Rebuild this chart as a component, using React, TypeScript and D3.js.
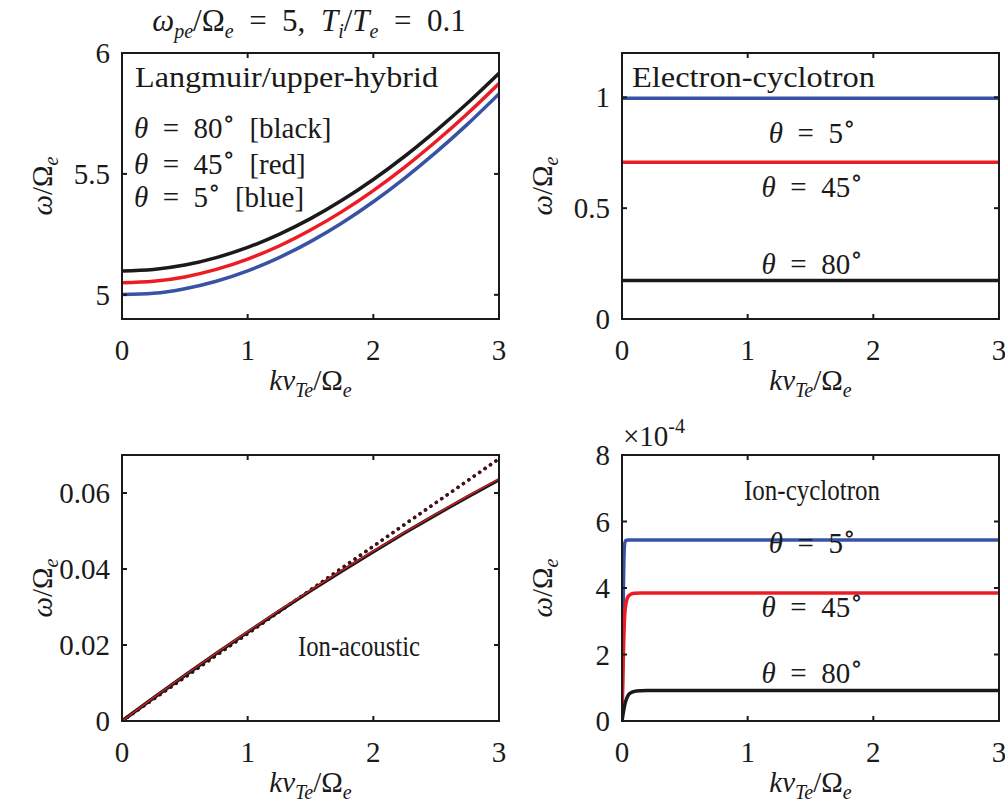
import React from "react";
import * as d3 from "d3";

// wavenumber grid kv_Te/Omega_e
const kGrid = [0, 0.25, 0.5, 0.75, 1, 1.25, 1.5, 1.75, 2, 2.25, 2.5, 2.75, 3];

// Langmuir / upper-hybrid branch
const luBlack = [5.099, 5.105, 5.123, 5.154, 5.196, 5.25, 5.315, 5.391, 5.477, 5.573, 5.679, 5.793, 5.916];
const luRed = [5.05, 5.056, 5.074, 5.105, 5.148, 5.202, 5.268, 5.344, 5.431, 5.528, 5.635, 5.75, 5.874];
const luBlue = [5.001, 5.006, 5.025, 5.056, 5.099, 5.154, 5.22, 5.297, 5.385, 5.483, 5.59, 5.706, 5.831];

// electron-cyclotron branch
const ecK = [0, 3];
const ecBlue = [0.996, 0.996];
const ecRed = [0.707, 0.707];
const ecBlack = [0.174, 0.174];

// ion-acoustic branch
const iaSolid = [0, 0.00606, 0.01197, 0.01775, 0.02339, 0.02889, 0.03425, 0.03948, 0.04456, 0.04951, 0.05431, 0.05898, 0.0635];
const iaRed = [0, 0.00612, 0.01207, 0.01788, 0.02355, 0.02906, 0.03443, 0.03966, 0.04474, 0.04969, 0.0545, 0.05918, 0.0637];
const iaDotted = [0, 0.00575, 0.0115, 0.01725, 0.023, 0.02875, 0.0345, 0.04025, 0.046, 0.05175, 0.0575, 0.06325, 0.069];

// ion-cyclotron branch (units of 1e-4)
const icK = [0, 0.005, 0.01, 0.02, 0.03, 0.05, 0.075, 0.1, 0.15, 0.2, 0.3, 0.5, 1, 2, 3];
const icBlue = [0, 1.8, 3.6, 5.3, 5.43, 5.44, 5.44, 5.44, 5.44, 5.44, 5.44, 5.44, 5.44, 5.44, 5.44];
const icRed = [0, 0.9, 1.8, 3.1, 3.5, 3.75, 3.82, 3.84, 3.85, 3.85, 3.85, 3.85, 3.85, 3.85, 3.85];
const icBlack = [0, 0.12, 0.24, 0.45, 0.6, 0.78, 0.86, 0.89, 0.91, 0.92, 0.92, 0.92, 0.92, 0.92, 0.92];

const xTicks = [0, 1, 2, 3];

const BLUE = "#3953a4";
const RED = "#ed1c24";
const BLACK = "#1a1a1a";
const FONT = "'Liberation Serif', 'Times New Roman', 'DejaVu Serif', serif";
const FS = 29; // main font size
const SS = 20; // subscript size
const SP = "\u2002";

type Series = { x: number[]; y: number[]; color: string; width: number; dash?: string };

type PanelProps = {
  left: number;
  top: number;
  yDomain: [number, number];
  yTicks: number[];
  series: Series[];
  children?: React.ReactNode;
};

const W = 377;
const H = 266;

const sub = (s: string, d = 7) => (
  <>
    <tspan dy={d} fontSize={SS} fontStyle="italic">
      {s}
    </tspan>
    <tspan dy={-d}>{"\u200b"}</tspan>
  </>
);

const Theta = ({ x, y, deg, tag, anchor = "middle" }: { x: number; y: number; deg: string; tag?: string; anchor?: string }) => (
  <text x={x} y={y} textAnchor={anchor as any} fontSize={FS}>
    <tspan fontStyle="italic">θ</tspan>
    <tspan>{SP + "=" + SP + deg}</tspan>
    <tspan dy={-11} fontSize={25}>∘</tspan>
    <tspan dy={11}>{tag ? SP + tag : "\u200b"}</tspan>
  </text>
);

const Panel = ({ left, top, yDomain, yTicks, series, children }: PanelProps) => {
  const x = d3.scaleLinear().domain([0, 3]).range([left, left + W]);
  const y = d3.scaleLinear().domain(yDomain).range([top + H, top]);
  const line = (s: Series) =>
    d3
      .line<number>()
      .x((_, i) => x(s.x[i]))
      .y((d) => y(d))
      .curve(d3.curveMonotoneX)(s.y) as string;
  const bottom = top + H;
  return (
    <g>
      <defs>
        <clipPath id={`clip-${left}-${top}`}>
          <rect x={left} y={top} width={W} height={H} />
        </clipPath>
      </defs>
      <g clipPath={`url(#clip-${left}-${top})`}>
        {series.map((s, i) => (
          <path
            key={i}
            d={line(s)}
            fill="none"
            stroke={s.color}
            strokeWidth={s.width}
            strokeDasharray={s.dash}
            strokeLinecap={s.dash ? "round" : "butt"}
          />
        ))}
      </g>
      <rect x={left} y={top} width={W} height={H} fill="none" stroke={BLACK} strokeWidth={2} />
      {xTicks.map((t) => (
        <g key={"x" + t}>
          <line x1={x(t)} x2={x(t)} y1={bottom} y2={bottom - 5} stroke={BLACK} strokeWidth={2} />
          <line x1={x(t)} x2={x(t)} y1={top} y2={top + 5} stroke={BLACK} strokeWidth={2} />
          <text x={x(t)} y={bottom + 41} textAnchor="middle" fontSize={FS}>
            {t}
          </text>
        </g>
      ))}
      {yTicks.map((t) => (
        <g key={"y" + t}>
          <line x1={left} x2={left + 5} y1={y(t)} y2={y(t)} stroke={BLACK} strokeWidth={2} />
          <line x1={left + W} x2={left + W - 5} y1={y(t)} y2={y(t)} stroke={BLACK} strokeWidth={2} />
          <text x={left - 12} y={y(t) + 10} textAnchor="end" fontSize={FS}>
            {String(t)}
          </text>
        </g>
      ))}
      <text x={left + W / 2} y={bottom + 71} textAnchor="middle" fontSize={FS}>
        <tspan fontStyle="italic">kv</tspan>
        {sub("Te")}
        <tspan>/Ω</tspan>
        {sub("e")}
      </text>
      <text
        transform={`translate(${left - 70},${top + H / 2}) rotate(-90)`}
        textAnchor="middle"
        fontSize={FS}
      >
        <tspan fontStyle="italic">ω</tspan>
        <tspan>/Ω</tspan>
        {sub("e", 6)}
      </text>
      {children}
    </g>
  );
};

export default function App() {
  return (
    <svg
      width={1005}
      height={805}
      style={{ display: "block", position: "absolute", left: 0, top: 0, fontFamily: FONT }}
      fill={BLACK}
    >
      <rect width={1005} height={805} fill="#fff" />
      <text x={309} y={31} textAnchor="middle" fontSize={31}>
        <tspan fontStyle="italic">ω</tspan>
        {sub("pe")}
        <tspan>/Ω</tspan>
        {sub("e")}
        <tspan>{SP + "=" + SP + "5,"}</tspan>
        <tspan fontStyle="italic">{"\u2002T"}</tspan>
        {sub("i")}
        <tspan>/</tspan>
        <tspan fontStyle="italic">T</tspan>
        {sub("e")}
        <tspan>{SP + "=" + SP + "0.1"}</tspan>
      </text>

      <Panel
        left={122}
        top={53}
        yDomain={[4.9, 6]}
        yTicks={[5, 5.5, 6]}
        series={[
          { x: kGrid, y: luBlue, color: BLUE, width: 3.5 },
          { x: kGrid, y: luRed, color: RED, width: 3.5 },
          { x: kGrid, y: luBlack, color: BLACK, width: 3.5 },
        ]}
      >
        <text x={135} y={87} fontSize={FS} textLength={303} lengthAdjust="spacingAndGlyphs">
          Langmuir/upper-hybrid
        </text>
        <Theta x={134} y={138} deg="80" tag="[black]" anchor="start" />
        <Theta x={134} y={174} deg="45" tag="[red]" anchor="start" />
        <Theta x={134} y={207} deg="5" tag="[blue]" anchor="start" />
      </Panel>

      <Panel
        left={622}
        top={53}
        yDomain={[0, 1.2]}
        yTicks={[0, 0.5, 1]}
        series={[
          { x: ecK, y: ecBlue, color: BLUE, width: 3.5 },
          { x: ecK, y: ecRed, color: RED, width: 3.5 },
          { x: ecK, y: ecBlack, color: BLACK, width: 3.5 },
        ]}
      >
        <text x={632} y={87} fontSize={FS} textLength={243} lengthAdjust="spacingAndGlyphs">
          Electron-cyclotron
        </text>
        <Theta x={812} y={143} deg="5" />
        <Theta x={812} y={197} deg="45" />
        <Theta x={812} y={274} deg="80" />
      </Panel>

      <Panel
        left={122}
        top={455}
        yDomain={[0, 0.07]}
        yTicks={[0, 0.02, 0.04, 0.06]}
        series={[
          { x: kGrid, y: iaDotted, color: RED, width: 3.5, dash: "0.1,6.5" },
          { x: kGrid, y: iaDotted, color: "#2a1a1e", width: 3.5, dash: "0.1,6.5" },
          { x: kGrid, y: iaSolid, color: BLACK, width: 3.5 },
          { x: kGrid, y: iaRed, color: RED, width: 1.2 },
        ]}
      >
        <text x={359} y={656} textAnchor="middle" fontSize={FS} textLength={122} lengthAdjust="spacingAndGlyphs">
          Ion-acoustic
        </text>
      </Panel>

      <Panel
        left={622}
        top={455}
        yDomain={[0, 8]}
        yTicks={[0, 2, 4, 6, 8]}
        series={[
          { x: icK, y: icBlue, color: BLUE, width: 3.5 },
          { x: icK, y: icRed, color: RED, width: 3.5 },
          { x: icK, y: icBlack, color: BLACK, width: 3.5 },
        ]}
      >
        <text x={623} y={446} fontSize={FS}>
          ×10
          <tspan dy={-13} fontSize={SS}>-4</tspan>
        </text>
        <text x={812} y={500} textAnchor="middle" fontSize={FS} textLength={136} lengthAdjust="spacingAndGlyphs">
          Ion-cyclotron
        </text>
        <Theta x={812} y={553} deg="5" />
        <Theta x={812} y={617} deg="45" />
        <Theta x={812} y={683} deg="80" />
      </Panel>
    </svg>
  );
}
